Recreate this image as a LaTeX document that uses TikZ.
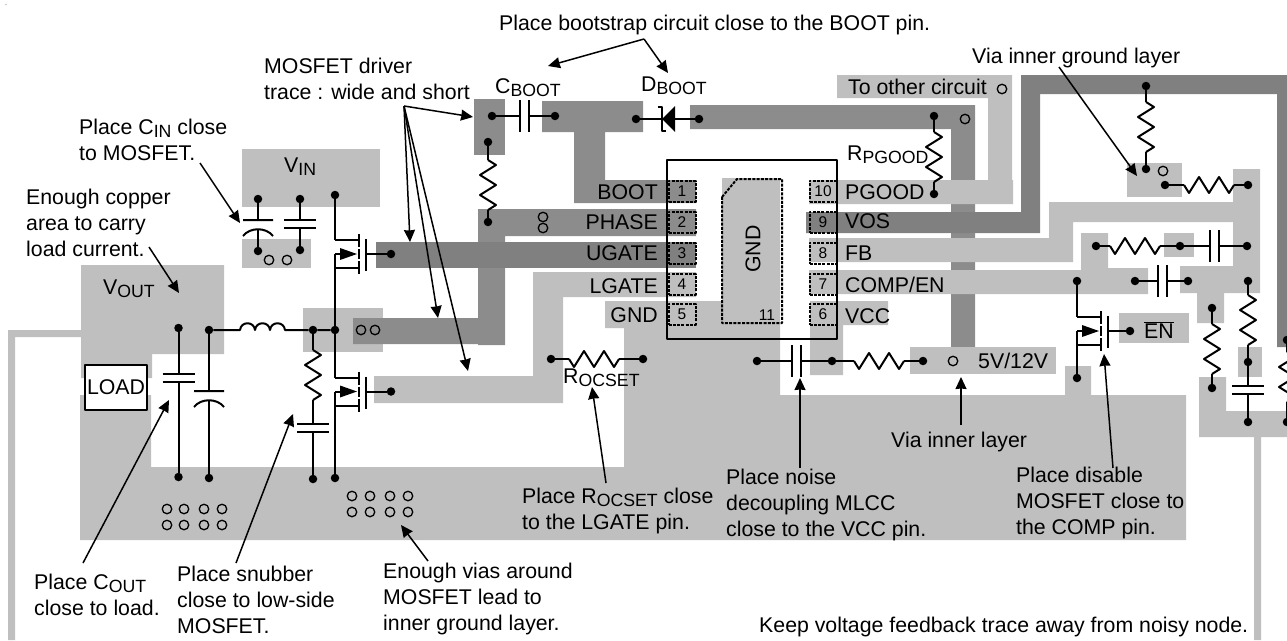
\documentclass[tikz,border=0pt]{standalone}
\usepackage{fontspec}
\setmainfont{Liberation Sans}
\usetikzlibrary{arrows.meta}
\definecolor{cuL}{HTML}{BFBFBF}
\definecolor{cuM}{HTML}{8C8C8C}
\definecolor{cuD}{HTML}{808080}
\newcommand{\subtxt}[1]{\raisebox{-3.5pt}{\fontsize{17.7}{17.7}\selectfont #1}}
\tikzset{
	wire/.style={line width=2pt},
	lead/.style={line width=1.5pt,->},
	jn/.style={circle,fill=black,inner sep=0pt,minimum size=8.5pt},
	via/.style={circle,draw=black,line width=1.3pt,inner sep=0pt,minimum size=9.5pt},
	txt/.style={anchor=base west,inner sep=0pt,align=left},
	pinl/.style={anchor=base east,inner sep=0pt},
	pinpad/.style={draw=black,line width=2pt,line cap=butt,dash pattern=on 3pt off 1.3pt,inner sep=0pt,
		minimum width=27pt,minimum height=21pt,font=\fontsize{15.5}{15.5}\selectfont},
	pics/resv/.style={code={
		\coordinate (-a) at (0,0); \coordinate (-b) at (0,50);
		\draw[wire] (0,0)--(8,5)--(-8,15)--(8,25)--(-8,35)--(8,45)--(0,50);}},
	pics/resh/.style={code={
		\coordinate (-a) at (0,0); \coordinate (-b) at (50,0);
		\draw[wire] (0,0)--(5,8)--(15,-8)--(25,8)--(35,-8)--(45,8)--(50,0);}},
	pics/capv/.style={code={
		\coordinate (-a) at (0,-4); \coordinate (-b) at (0,4);
		\draw[wire] (-16,-4)--(16,-4) (-16,4)--(16,4);}},
	pics/caph/.style={code={
		\coordinate (-a) at (-4.5,0); \coordinate (-b) at (4.5,0);
		\draw[wire] (-4.5,-16)--(-4.5,16) (4.5,-16)--(4.5,16);}},
	pics/capp/.style={code={
		\coordinate (-a) at (0,0); \coordinate (-b) at (0,10);
		\draw[wire] (-15,0)--(15,0) (-15,16) .. controls (-8,7) and (8,7) .. (15,16);}},
	pics/fet/.style={code={
		\coordinate (-d) at (-24,-14); \coordinate (-s) at (-24,0); \coordinate (-g) at (7,0);
		\draw[wire] (-24,-14)--(0,-14) (-24,0)--(-19,0) (-24,14)--(0,14);
		\fill (-19,-6)--(-2,0)--(-19,6)--cycle;
		\draw[wire,line cap=butt] (0,-20)--(0,-7) (0,-5)--(0,5) (0,7)--(0,20) (7,-15)--(7,17);}},
	pics/schottky/.style={code={
		\fill (0,0)--(13,-13)--(13,13)--cycle;
		\draw[wire] (-4,-12)--(0,-12)--(0,12)--(4,12);}},
}
\begin{document}
\begin{tikzpicture}[x=1pt,y=-1pt,font=\fontsize{21.3}{25.6}\selectfont,line join=round,>={Stealth[length=12pt,width=11pt,inset=0.5pt]}]
	\useasboundingbox (0,0) rectangle (1287,640);
	\fill[cuL] (6,4.5) circle (0.8);
	% copper, under the traces
	\fill[cuL] (242,149) rectangle (380,207);
	\fill[cuL] (242,239) rectangle (311,268);
	\fill[cuL] (81,265)--(224,265)--(224,354)--(152,354)--(152,378)--(81,378)--cycle;
	\fill[cuL] (605,301)--(722,301)--(722,178)--(780,178)--(780,395)--(1065,395)--(1065,366)--(1091,366)--(1091,395)--(1186,395)--(1186,540)--(80,540)--(80,395)--(151,395)--(151,467)--(624,467)--(624,328)--(605,328)--cycle;
	\fill[cuL] (303,308) rectangle (383,352);
	\fill[cuL] (8,640)--(8,330)--(81,330)--(81,337)--(15,337)--(15,640)--cycle;
	\fill[cuL] (1199,377)--(1226,377)--(1226,411)--(1287,411)--(1287,437)--(1261,437)--(1261,640)--(1254,640)--(1254,437)--(1199,437)--cycle;
	\fill[cuL] (374,376)--(533,376)--(533,272)--(696,272)--(696,297)--(563,297)--(563,403)--(374,403)--cycle;
	% medium traces
	\fill[cuM] (474,99) rectangle (505,155);
	\fill[cuM] (542,101)--(643,101)--(643,132)--(605,132)--(605,180)--(696,180)--(696,203)--(574,203)--(574,132)--(542,132)--cycle;
	\fill[cuM] (478,209)--(696,209)--(696,236)--(505,236)--(505,345)--(478,345)--(478,344)--(353,344)--(353,318)--(478,318)--cycle;
	\fill[cuM] (690,105)--(975,105)--(975,347)--(951,347)--(951,129)--(690,129)--cycle;
	\fill[cuD] (376,242) rectangle (696,268);
	% right side copper
	\fill[cuL] (837,75)--(1012,75)--(1012,180)--(1013,180)--(1013,204)--(809,204)--(809,180)--(988,180)--(988,98)--(837,98)--cycle;
	\fill[cuL] (809,238)--(1049,238)--(1049,202)--(1233,202)--(1233,169)--(1260,169)--(1260,293)--(1224,293)--(1224,323)--(1197,323)--(1197,293)--(1180,293)--(1180,266)--(1233,266)--(1233,222)--(1073,222)--(1073,262)--(809,262)--cycle;
	\fill[cuL] (809,270)--(1081,270)--(1081,233)--(1108,233)--(1108,268)--(1148,268)--(1148,294)--(809,294)--cycle;
	\fill[cuL] (1164,233) rectangle (1194,257);
	\fill[cuL] (1127,163) rectangle (1182,197);
	\fill[cuL] (1119,313) rectangle (1189,343);
	\fill[cuL] (1238,347) rectangle (1262,377);
	\fill[cuL] (810,301)--(888,301)--(888,325)--(843,325)--(843,375)--(810,375)--cycle;
	\fill[cuL] (910,347) rectangle (1056,374);
	\fill[cuD] (806,212)--(1021,212)--(1021,75)--(1287,75)--(1287,347)--(1277,347)--(1277,94)--(1040,94)--(1040,233)--(806,233)--cycle;
	% package
	\node[draw=black,line width=1.5pt,minimum width=170pt,minimum height=179pt,inner sep=0pt] (ic) at (752,249.5) {};
	\foreach \n/\y in {1/191.5,2/222,3/253,4/284,5/314}
		\node[pinpad] (pin\n) at (682,\y) {\n};
	\foreach \n/\y in {10/191.5,9/222,8/253,7/284,6/314}
		\node[pinpad] (pin\n) at (823,\y) {\n};
	\draw[line width=2pt,line cap=butt,dash pattern=on 3pt off 1.3pt] (722,197)--(737,179)--(782,179)--(782,323)--(722,323)--cycle;
	\node[rotate=90,inner sep=0pt] (padgnd) at (753,249) {GND};
	\node[inner sep=0pt,font=\fontsize{15.5}{15.5}\selectfont] (pin11) at (767,315) {11};
	% vias
	\foreach \x in {167,184,204,222} \foreach \y in {509,525} \node[via] (va\x\y) at (\x,\y) {};
	\foreach \x in {352,370,390,408} \foreach \y in {496,512} \node[via] (vb\x\y) at (\x,\y) {};
	\foreach \n/\x/\y in {1/269/260,2/287/260,3/361/330,4/375/330,5/543/217,6/543/228,7/1002/89,8/965/119,9/1163/171,10/953/361}
		\node[via] (vc\n) at (\x,\y) {};
	% junctions
	\foreach \n/\x/\y in {cia/258/199,cib/258/251,cja/300/199,cjb/300/250,qd/335/195,qg/391/254,qlg/391/391.5,sw/335/330,lx/313/330,
		coa/178.5/328,cob/178.5/477,cpa/209/330,cpb/209/478,sna/313/479,qs/335/478,
		cba/492/116,cbb/555/116,dba/636/119,dbb/699/119,rba/488/142,rbb/488/222,rpa/934/116,rpb/934/194,
		rva/1146/86,rvb/1146/169,rha/1165/185,rhb/1248/185,fba/1096/246,fbb/1180/246,fbc/1247/246,
		cma/1135/281,cmb/1188/281,ena/1077/281,ens/1077/378,eng/1130/331,
		rxa/1212/308,rxb/1212/388,rya/1248/281,ryb/1248/362,ryc/1248/422,rza/1287/340,rzb/1287/422,
		roa/551/359,rob/643/359,nca/757/361,ncb/832/361,ncc/923/361}
		\node[jn] (\n) at (\x,\y) {};
	% passives
	\pic (cin) at (258,220) {capp};
	\pic (cinb) at (300,224) {capv};
	\pic (cout) at (178.5,377.5) {capv};
	\pic (coutb) at (209,391) {capp};
	\pic (rsn) at (313,350) {resv};
	\pic (csn) at (313,427.5) {capv};
	\pic (cboot) at (524,116) {caph};
	\pic (rboot) at (488,160) {resv};
	\pic (dboot) at (662,119) {schottky};
	\pic (rpg) at (934,132) {resv};
	\pic (rvia) at (1146,102) {resv};
	\pic (rvh) at (1184,185) {resh};
	\pic (rfb) at (1110,246) {resh};
	\pic (cfb) at (1214.5,246) {caph};
	\pic (ccm) at (1162.5,281) {caph};
	\pic (rx) at (1212,324) {resv};
	\pic (ry) at (1248,295) {resv};
	\pic (cy) at (1248,390) {capv};
	\pic (rz) at (1287,352) {resv};
	\pic (rocs) at (569,359) {resh};
	\pic (cvcc) at (796.5,361) {caph};
	\pic (rvcc) at (854,361) {resh};
	\pic (q1) at (359,254) {fet};
	\pic (q2) at (359,391.5) {fet};
	\pic (q3) at (1101,331) {fet};
	% wires
	\draw[wire] (cia)--(cin-a) (cin-b)--(cib);
	\draw[wire] (cja)--(cinb-a) (cinb-b)--(cjb);
	\draw[wire] (qd)--(q1-d) (q1-s)--(sw)--(q2-d) (q2-s)--(qs);
	\draw[wire] (q1-g)--(qg) (q2-g)--(qlg);
	\draw[wire] (coa)--(cout-a) (cout-b)--(cob);
	\draw[wire] (cpa)--(coutb-a) (coutb-b)--(cpb);
	\draw[wire] (cpa)--(240,330) .. controls +(1,-9) and +(-1,-9) .. ++(15,0) .. controls +(1,-9) and +(-1,-9) .. ++(15,0) .. controls +(1,-9) and +(-1,-9) .. ++(15,0) -- (lx)--(sw);
	\draw[wire] (lx)--(rsn-a) (rsn-b)--(csn-a) (csn-b)--(sna);
	\draw[wire] (cba)--(cboot-a) (cboot-b)--(cbb);
	\draw[wire] (rba)--(rboot-a) (rboot-b)--(rbb);
	\draw[wire] (dba)--(dbb);
	\draw[wire] (rpa)--(rpg-a) (rpg-b)--(rpb);
	\draw[wire] (rva)--(rvia-a) (rvia-b)--(rvb);
	\draw[wire] (rha)--(rvh-a) (rvh-b)--(rhb);
	\draw[wire] (fba)--(rfb-a) (rfb-b)--(fbb)--(cfb-a) (cfb-b)--(fbc);
	\draw[wire] (cma)--(ccm-a) (ccm-b)--(cmb);
	\draw[wire] (ena)--(q3-d) (q3-s)--(ens) (q3-g)--(eng);
	\draw[wire] (rxa)--(rx-a) (rx-b)--(rxb);
	\draw[wire] (rya)--(ry-a) (ry-b)--(ryb)--(cy-a) (cy-b)--(ryc);
	\draw[wire] (rza)--(rz-a) (rz-b)--(rzb);
	\draw[wire] (roa)--(rocs-a) (rocs-b)--(rob);
	\draw[wire] (nca)--(cvcc-a) (cvcc-b)--(ncb)--(rvcc-a) (rvcc-b)--(ncc);
	% pin names
	\node[pinl] (lboot) at (658,199) {BOOT};
	\node[pinl] (lphase) at (658,229) {PHASE};
	\node[pinl] (lugate) at (658,260) {UGATE};
	\node[pinl] (llgate) at (658,293) {LGATE};
	\node[pinl] (lgnd) at (658,322) {GND};
	\node[txt] (lpgood) at (845,199) {PGOOD};
	\node[txt] (lvos) at (845,228) {VOS};
	\node[txt] (lfb) at (845,260) {FB};
	\node[txt] (lcomp) at (845,292) {COMP/EN};
	\node[txt] (lvcc) at (845,323) {VCC};
	% part names
	\node[txt] (tvin) at (284,172) {V\subtxt{IN}};
	\node[txt] (tvout) at (103,294) {V\subtxt{OUT}};
	\node[txt] (tcboot) at (495,93) {C\subtxt{BOOT}};
	\node[txt] (tdboot) at (641,91) {D\subtxt{BOOT}};
	\node[txt] (trpg) at (847,160) {R\subtxt{PGOOD}};
	\node[txt] (tother) at (848,94) {To other circuit};
	\node[txt] (trocs) at (563,383) {R\subtxt{OCSET}};
	\node[txt] (t5v) at (978,368) {5V/12V};
	\node[txt] (ten) at (1144,338) {$\overline{\mbox{EN}}$};
	\node[draw=black,line width=1.3pt,fill=white,minimum width=62pt,minimum height=45pt,inner sep=0pt] (load) at (116,387.5) {LOAD};
	% notes
	\node[txt] (nboot) at (499,30) {Place bootstrap circuit close to the BOOT pin.};
	\node[txt] (ndrv) at (264,99) {MOSFET driver\\trace : wide and short};
	\node[txt] (ncin) at (79,160) {Place C\subtxt{IN} close\\to MOSFET.};
	\node[txt] (ncu) at (26,256) {Enough copper\\area to carry\\load current.};
	\node[txt] (nvg) at (972,63) {Via inner ground layer};
	\node[txt] (ncou) at (34,615) {Place C\subtxt{OUT}\\close to load.};
	\node[txt] (nsnb) at (177,633) {Place snubber\\close to low-side\\MOSFET.};
	\node[txt] (nvia) at (383,630) {Enough vias around\\MOSFET lead to\\inner ground layer.};
	\node[txt] (nroc) at (522,529) {Place R\subtxt{OCSET} close\\to the LGATE pin.};
	\node[txt] (nmlc) at (726,536) {Place noise\\decoupling MLCC\\close to the VCC pin.};
	\node[txt] (nvi) at (891,447) {Via inner layer};
	\node[txt] (ndis) at (1016,534) {Place disable\\MOSFET close to\\the COMP pin.};
	\node[txt] (nkeep) at (759,632) {Keep voltage feedback trace away from noisy node.};
	% arrows
	\coordinate (aboot) at (644,39);
	\coordinate (adrv) at (404,106);
	\draw[lead] (aboot)--(548,66);
	\draw[lead] (aboot)--(668,73);
	\draw[lead] (adrv)--(410,242);
	\draw[lead] (adrv)--(473,117);
	\draw[lead] (adrv)--(438,318);
	\draw[lead] (adrv)--(468,371);
	\draw[lead] (200,163)--(240,223);
	\draw[lead] (149,247)--(179,293);
	\draw[lead] (1059,67)--(1137,176);
	\draw[lead] (83,563)--(169,400);
	\draw[lead] (236,563)--(293,414);
	\draw[lead] (428,561)--(401,525);
	\draw[lead] (606,483)--(592,387);
	\draw[lead] (800,468)--(800,378);
	\draw[lead] (961,425)--(961,377);
	\draw[lead] (1113,468)--(1104,354);
\end{tikzpicture}
\end{document}
